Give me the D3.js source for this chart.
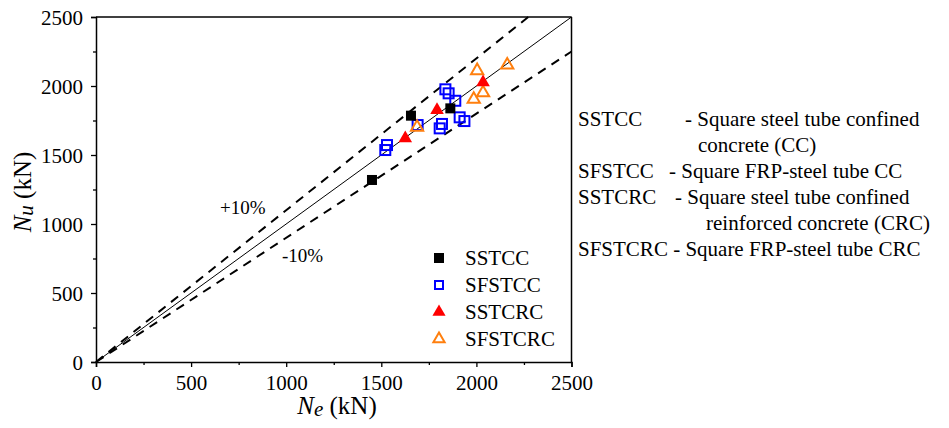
<!DOCTYPE html>
<html><head><meta charset="utf-8">
<script src="https://cdn.jsdelivr.net/npm/d3@7"></script>
<style>body{margin:0;background:#fff;} svg{display:block;}</style>
</head><body>
<svg id="c" width="949" height="428" font-family="Liberation Serif"></svg>
<script>
const sstccNe = [1451, 1656, 1863];
const sstccNu = [1319, 1785, 1838];
const sfstccNe = [1521, 1530, 1691, 1807, 1819, 1837, 1854, 1889, 1912, 1937];
const sfstccNu = [1536, 1572, 1717, 1693, 1725, 1976, 1947, 1893, 1773, 1746];
const sstcrcNe = [1626, 1793, 2035];
const sstcrcNu = [1621, 1826, 2027];
const sfstcrcNe = [1688, 1986, 2035, 2004, 2162];
const sfstcrcNu = [1701, 1904, 1951, 2111, 2152];
const xTicks = [0, 500, 1000, 1500, 2000, 2500];
const yTicks = [0, 500, 1000, 1500, 2000, 2500];
const seriesNames = ["SSTCC", "SFSTCC", "SSTCRC", "SFSTCRC"];
const descLines = [
  ["SSTCC", "- Square steel tube confined"],
  ["", "concrete (CC)"],
  ["SFSTCC", "- Square FRP-steel tube CC"],
  ["SSTCRC", "- Square steel tube confined"],
  ["", "reinforced concrete (CRC)"],
  ["SFSTCRC - Square FRP-steel tube CRC", ""]
];

const FONT = "'Liberation Serif'";
const svg = d3.select("#c");
const L = 96, R = 571.5, T = 17, B = 362;
const x = d3.scaleLinear().domain([0, 2500]).range([L, R]);
const y = d3.scaleLinear().domain([0, 2500]).range([B, T]);
function txt(parent) { return parent.append("text").style("font-family", FONT); }

// reference lines
const line = d3.line().x(d => x(d[0])).y(d => y(d[1]));
svg.append("path").attr("d", line([[0,0],[2500,2500]])).attr("stroke","#000").attr("stroke-width",1).attr("fill","none");
svg.append("path").attr("d", line([[0,0],[2500/1.1,2500]])).attr("stroke","#000").attr("stroke-width",2).attr("stroke-dasharray","9,7").attr("fill","none");
svg.append("path").attr("d", line([[0,0],[2500,2500*0.9]])).attr("stroke","#000").attr("stroke-width",2).attr("stroke-dasharray","9,7").attr("fill","none");

// axes
const fs = 21;
const xAxis = svg.append("g").attr("transform", `translate(0,${B})`)
  .call(d3.axisBottom(x).tickValues(d3.range(0, 2501, 250)).tickSize(5).tickFormat(d => xTicks.includes(d) ? d : ""));
const yAxis = svg.append("g").attr("transform", `translate(${L},0)`)
  .call(d3.axisLeft(y).tickValues(d3.range(0, 2501, 250)).tickSize(5).tickFormat(d => yTicks.includes(d) ? d : ""));
[xAxis, yAxis].forEach(g => {
  g.attr("font-family", "Liberation Serif").style("font-family", FONT);
  g.select(".domain").attr("stroke-width", 1.5);
  g.selectAll(".tick line").attr("stroke-width", 1.3);
  g.selectAll("text").attr("font-size", fs).attr("fill", "#000").style("font-family", FONT);
});
xAxis.selectAll(".tick").filter(d => !xTicks.includes(d)).select("line").attr("y2", 3);
yAxis.selectAll(".tick").filter(d => !yTicks.includes(d)).select("line").attr("x2", -3);
xAxis.selectAll("text").attr("dy", "0").attr("y", 28);
yAxis.selectAll("text").attr("x", -13).attr("dy", "0.34em");
// frame top/right
svg.append("line").attr("x1", L).attr("x2", R).attr("y1", T).attr("y2", T).attr("stroke","#000").attr("stroke-width",1.5);
svg.append("line").attr("x1", R).attr("x2", R).attr("y1", T).attr("y2", B).attr("stroke","#000").attr("stroke-width",1.5);

// markers
const sq = 10;
function squares(xs, ys, filled, col) {
  svg.append("g").selectAll("rect").data(xs.map((v,i)=>[v, ys[i]])).join("rect")
    .attr("x", d => x(d[0]) - sq/2).attr("y", d => y(d[1]) - sq/2)
    .attr("width", sq).attr("height", sq)
    .attr("fill", filled ? col : "none").attr("stroke", col).attr("stroke-width", filled ? 0 : 2);
}
const triSym = d3.symbol().type(d3.symbolTriangle);
function tris(xs, ys, filled, col) {
  svg.append("g").selectAll("path").data(xs.map((v,i)=>[v, ys[i]])).join("path")
    .attr("d", triSym.size(filled ? 80 : 65)())
    .attr("transform", d => `translate(${x(d[0])},${y(d[1])})`)
    .attr("fill", filled ? col : "none").attr("stroke", col).attr("stroke-width", filled ? 0 : 2);
}
squares(sfstccNe, sfstccNu, false, "#0000ff");
tris(sfstcrcNe, sfstcrcNu, false, "#ff7f0e");
tris(sstcrcNe, sstcrcNu, true, "#ff0000");
squares(sstccNe, sstccNu, true, "#000");

// legend
const legY = [258, 285, 312, 339];
const lx = 439;
const lg = svg.append("g");
lg.append("rect").attr("x", lx - 5).attr("y", legY[0] - 5).attr("width", 10).attr("height", 10).attr("fill", "#000");
lg.append("rect").attr("x", lx - 4).attr("y", legY[1] - 4).attr("width", 8).attr("height", 8).attr("fill", "none").attr("stroke", "#0000ff").attr("stroke-width", 2);
lg.append("path").attr("d", triSym.size(75)()).attr("transform", `translate(${lx},${legY[2]})`).attr("fill", "#ff0000");
lg.append("path").attr("d", triSym.size(55)()).attr("transform", `translate(${lx},${legY[3]})`).attr("fill", "none").attr("stroke", "#ff7f0e").attr("stroke-width", 2);
seriesNames.forEach((n, i) => {
  txt(lg).attr("x", 465).attr("y", legY[i]).attr("dy", "0.35em").attr("font-size", fs).text(n);
});

// labels
txt(svg).attr("x", 220).attr("y", 214).attr("font-size", 19).text("+10%");
txt(svg).attr("x", 282).attr("y", 262).attr("font-size", 19).text("-10%");

const xt = txt(svg).attr("x", 337).attr("y", 414).attr("text-anchor", "middle").attr("font-size", 25);
xt.append("tspan").attr("font-style", "italic").text("N");
xt.append("tspan").attr("font-style", "italic").attr("font-size", 21).attr("dy", 2).text("e");
xt.append("tspan").attr("dy", -2).text(" (kN)");
const yt = txt(svg).attr("transform", "translate(31,192) rotate(-90)").attr("text-anchor", "middle").attr("font-size", 25);
yt.append("tspan").attr("font-style", "italic").text("N");
yt.append("tspan").attr("font-style", "italic").attr("font-size", 21).attr("dy", 2).text("u");
yt.append("tspan").attr("dy", -2).text(" (kN)");

// description text
const dBase = [126, 152, 178, 204, 230, 256];
const dashX = [685, 698, 669, 675, 706, 0];
descLines.forEach((l, i) => {
  if (l[0]) txt(svg).attr("x", 578).attr("y", dBase[i]).attr("font-size", fs).text(l[0]);
  if (l[1]) txt(svg).attr("x", dashX[i]).attr("y", dBase[i]).attr("font-size", fs).text(l[1]);
});
</script>
</body></html>
